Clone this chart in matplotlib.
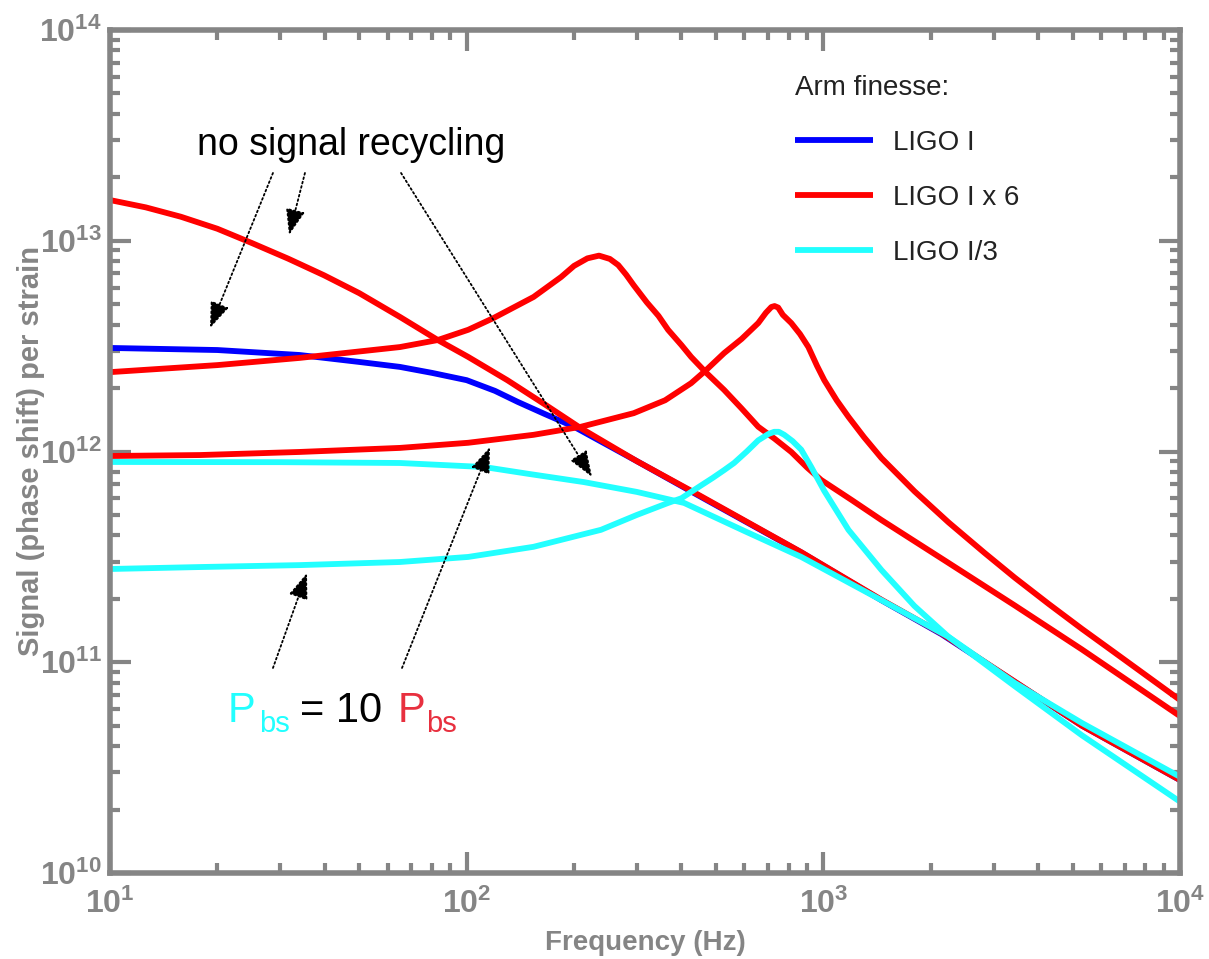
import numpy as np
import matplotlib.pyplot as plt
from matplotlib.ticker import LogLocator, FuncFormatter, NullFormatter

# LIGO I
blue_f = [10, 20, 34, 50, 65, 80, 100, 120, 139, 165, 200, 300, 434, 867, 1455, 2143,
          5309, 10000]
blue_v = [3.10e12, 3.03e12, 2.87e12, 2.66e12, 2.52e12, 2.36e12, 2.18e12, 1.94e12,
          1.72e12, 1.51e12, 1.31e12, 9.0e11, 6.35e11, 3.32e11, 1.97e11, 1.36e11,
          5.0e10, 2.76e10]

# LIGO I x 6, no signal recycling
red0_f = [10, 12.6, 15.8, 20, 25, 31.6, 39.8, 50, 65, 83, 101, 130, 165, 209, 300, 434,
          867, 1455, 2143, 5309, 10000]
red0_v = [1.56e13, 1.44e13, 1.30e13, 1.14e13, 9.75e12, 8.22e12, 6.86e12, 5.64e12,
          4.35e12, 3.38e12, 2.81e12, 2.18e12, 1.68e12, 1.29e12, 9.0e11, 6.4e11,
          3.33e11, 1.98e11, 1.37e11, 5.0e10, 2.76e10]

# LIGO I x 6, signal recycled (peak ~230 Hz)
red1_f = [10, 20, 34, 65, 83, 101, 119, 154, 184, 200, 218, 235, 252, 266, 280, 294,
          320, 345, 367, 400, 426, 470, 527, 590, 657, 730, 813, 900, 986, 1200, 1455,
          2244, 3441, 5309, 10000]
red1_v = [2.38e12, 2.57e12, 2.78e12, 3.13e12, 3.38e12, 3.78e12, 4.30e12, 5.41e12,
          6.73e12, 7.6e12, 8.25e12, 8.5e12, 8.2e12, 7.67e12, 6.9e12, 6.15e12,
          5.1e12, 4.4e12, 3.78e12, 3.2e12, 2.81e12, 2.36e12, 1.96e12, 1.60e12,
          1.31e12, 1.15e12, 9.95e11, 8.4e11, 7.33e11, 5.89e11, 4.73e11, 2.96e11,
          1.86e11, 1.15e11, 5.55e10]

# LIGO I x 6, signal recycled (peak ~720 Hz)
red2_f = [10, 17.9, 34, 65, 101, 154, 209, 294, 360, 426, 470, 527, 590, 657, 690, 715,
          730, 747, 770, 813, 860, 908, 960, 1006, 1090, 1176, 1300, 1455, 1802, 2244,
          2833, 3441, 4285, 5309, 6566, 10000]
red2_v = [9.52e11, 9.62e11, 9.95e11, 1.04e12, 1.10e12, 1.20e12, 1.31e12, 1.52e12,
          1.75e12, 2.11e12, 2.44e12, 2.93e12, 3.42e12, 4.07e12, 4.55e12, 4.85e12,
          4.9e12, 4.82e12, 4.45e12, 4.07e12, 3.61e12, 3.13e12, 2.55e12, 2.18e12,
          1.75e12, 1.46e12, 1.17e12, 9.31e11, 6.47e11, 4.61e11, 3.30e11, 2.52e11,
          1.89e11, 1.44e11, 1.11e11, 6.62e10]

# LIGO I/3, no signal recycling
cyan0_f = [10, 30, 65, 112, 150, 213, 300, 407, 600, 867, 1455, 2244, 3441, 5309, 10000]
cyan0_v = [8.92e11, 8.90e11, 8.82e11, 8.44e11, 7.82e11, 7.16e11, 6.43e11, 5.70e11,
           4.20e11, 3.16e11, 1.97e11, 1.32e11, 7.98e10, 5.15e10, 2.86e10]

# LIGO I/3, signal recycled (peak ~740 Hz)
cyan1_f = [10, 17.9, 34, 65, 101, 154, 238, 300, 367, 400, 454, 490, 527, 562, 610,
           657, 701, 728, 750, 777, 820, 867, 925, 1006, 1176, 1455, 1800, 2244, 3441,
           5309, 10000]
cyan1_v = [2.77e11, 2.83e11, 2.89e11, 2.99e11, 3.16e11, 3.53e11, 4.25e11, 5.0e11,
           5.70e11, 6.0e11, 6.9e11, 7.5e11, 8.16e11, 8.82e11, 1.0e12, 1.13e12,
           1.21e12, 1.24e12, 1.24e12, 1.20e12, 1.12e12, 1.02e12, 8.44e11, 6.5e11,
           4.25e11, 2.74e11, 1.85e11, 1.32e11, 7.7e10, 4.5e10, 2.18e10]

GRAY = "#858585"
BLUE = "#0000ff"
RED = "#ff0000"
CYAN = "#22ffff"

plt.rcParams["font.family"] = ["Liberation Sans", "DejaVu Sans"]
plt.rcParams["mathtext.fontset"] = "custom"
plt.rcParams["mathtext.rm"] = "Liberation Sans"
plt.rcParams["mathtext.bf"] = "Liberation Sans:bold"

fig = plt.figure(figsize=(12.09, 9.59), dpi=100)
ax = fig.add_axes([110 / 1209, 86 / 959, 1070 / 1209, 843 / 959])

lw = 4.2
kw = dict(lw=lw, solid_joinstyle="round", solid_capstyle="butt")
hb, = ax.plot(blue_f, blue_v, color=BLUE, label="LIGO I", **kw)
hr, = ax.plot(red0_f, red0_v, color=RED, label="LIGO I x 6", **kw)
ax.plot(red1_f, red1_v, color=RED, **kw)
ax.plot(red2_f, red2_v, color=RED, **kw)
hc, = ax.plot(cyan0_f, cyan0_v, color=CYAN, label="LIGO I/3", **kw)
ax.plot(cyan1_f, cyan1_v, color=CYAN, **kw)

ax.set_xscale("log")
ax.set_yscale("log")
ax.set_xlim(10, 1e4)
ax.set_ylim(1e10, 1e14)

fmt = FuncFormatter(lambda v, p: r"$\mathbf{10^{%d}}$" % round(np.log10(v)))
for axis in (ax.xaxis, ax.yaxis):
    axis.set_major_locator(LogLocator(base=10))
    axis.set_minor_locator(LogLocator(base=10, subs=np.arange(2, 10)))
    axis.set_major_formatter(fmt)
    axis.set_minor_formatter(NullFormatter())

for s in ax.spines.values():
    s.set_linewidth(4)
    s.set_color(GRAY)
ax.tick_params(which="both", direction="in", top=True, right=True, color=GRAY)
ax.tick_params(which="major", length=15, width=3, labelsize=23, labelcolor=GRAY)
ax.tick_params(which="minor", length=7.5, width=3)
ax.tick_params(axis="x", pad=11)
ax.tick_params(axis="y", pad=6)

ax.set_xlabel("Frequency (Hz)", fontsize=20, fontweight="bold", color=GRAY)
ax.set_ylabel("Signal (phase shift) per strain", fontsize=21, fontweight="bold", color=GRAY)
ax.xaxis.set_label_coords(0.5, -0.0675)
ax.yaxis.set_label_coords(-0.061, 0.5)

leg = ax.legend(handles=[hb, hr, hc], title="Arm finesse:", loc="upper left",
                bbox_to_anchor=(0.640, 0.947), frameon=False, fontsize=20,
                title_fontsize=20, handlelength=2.8, handletextpad=0.75,
                labelspacing=1.05, borderpad=0, borderaxespad=0, alignment="left",
                labelcolor="#222222")
leg.get_title().set_color("#222222")

# annotations
arrow = dict(arrowstyle="-|>,head_length=0.8,head_width=0.3", linestyle=(0, (1, 1.5)),
             lw=1.3, color="black", shrinkA=0, shrinkB=0, mutation_scale=20)
ax.text(0.0813, 0.8517, "no signal recycling", transform=ax.transAxes,
        fontsize=27, color="black", va="baseline", ha="left")
for start, tip in [((0.1523, 0.8304), (0.0935, 0.6465)),
                   ((0.1822, 0.8304), (0.1673, 0.7568)),
                   ((0.2720, 0.8304), (0.4505, 0.4698)),
                   ((0.1523, 0.2432), (0.1841, 0.3559)),
                   ((0.2729, 0.2432), (0.3551, 0.5053))]:
    ax.annotate("", xy=tip, xytext=start, xycoords="axes fraction",
                textcoords="axes fraction", arrowprops=arrow)

ax.text(0.1103, 0.1791, "P", transform=ax.transAxes, fontsize=30, color=CYAN, va="baseline")
ax.text(0.1392, 0.1673, "bs", transform=ax.transAxes, fontsize=21, color=CYAN, va="baseline")
ax.text(0.1776, 0.1791, "= 10", transform=ax.transAxes, fontsize=30, color="black", va="baseline")
ax.text(0.2692, 0.1791, "P", transform=ax.transAxes, fontsize=30, color="#e8303f", va="baseline")
ax.text(0.2955, 0.1673, "bs", transform=ax.transAxes, fontsize=21, color="#e8303f", va="baseline")

fig.savefig("out.png", dpi=100)
